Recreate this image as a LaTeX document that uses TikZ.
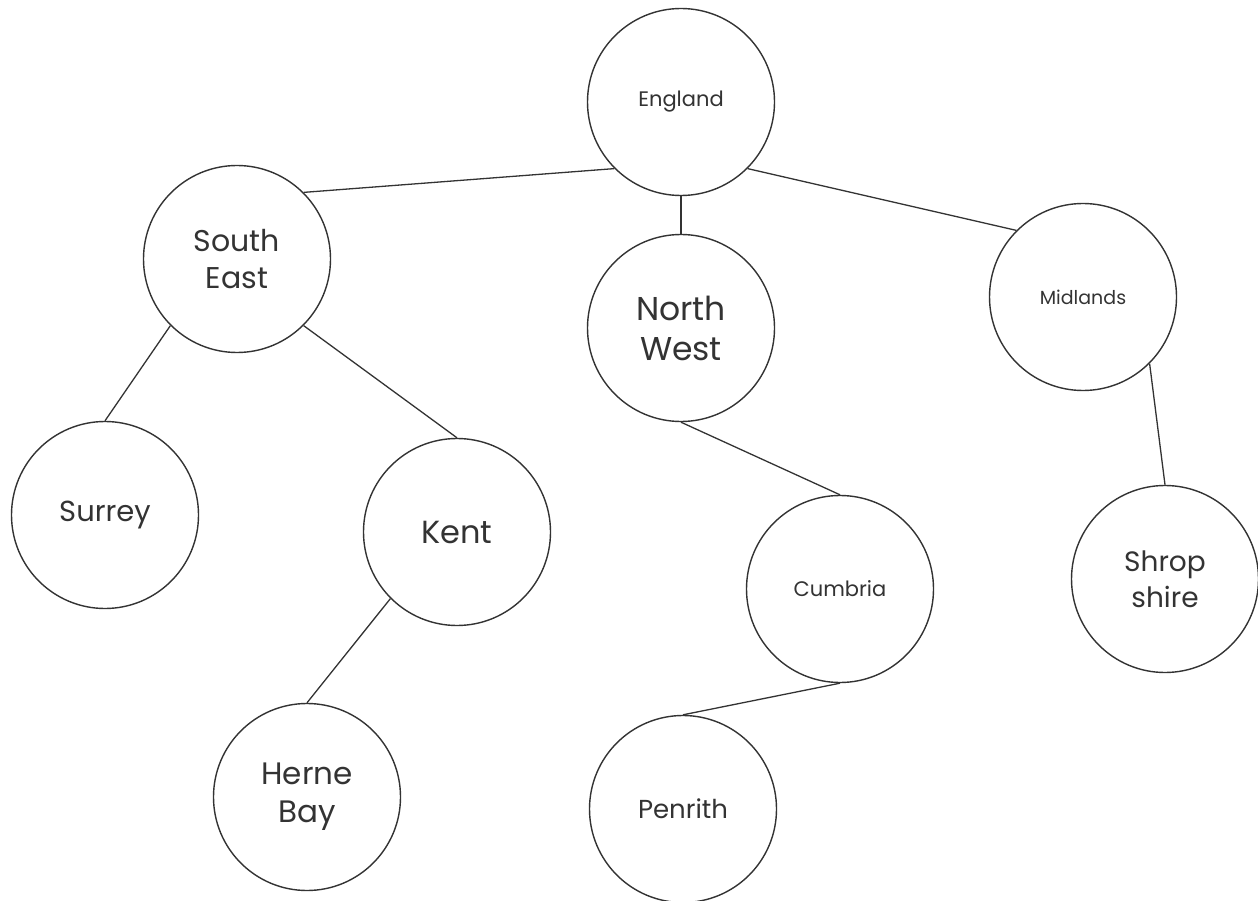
\documentclass[tikz,border=0pt]{standalone}
\usepackage{fontspec}
\setmainfont{Poppins}
\definecolor{ink}{HTML}{333333}
\begin{document}
\begin{tikzpicture}[x=1pt,y=-1pt,
  region/.style={circle,draw=ink,line width=1.4pt,minimum size=187pt,inner sep=0pt,
    text=ink,align=center},
  link/.style={draw=ink,line width=1.3pt},
  fs/.style 2 args={font=\fontsize{#1}{#2}\selectfont}]
\useasboundingbox (0,0) rectangle (1258,901);

\node[region,fs={21pt}{25pt}] (eng) at (681,102) {England};
\node[region,fs={30pt}{37pt}] (se)  at (237,259) {South\\East};
\node[region,fs={33pt}{40pt}] (nw)  at (681,328) {North\\West};
\node[region,fs={19pt}{23pt}] (mid) at (1083,297) {Midlands};
\node[region,fs={29pt}{35pt}] (sur) at (105,515) {Surrey};
\node[region,fs={32pt}{38pt}] (kent) at (457,532) {Kent};
\node[region,fs={21pt}{25pt}] (cum) at (840,589) {Cumbria};
\node[region,fs={28pt}{36pt}] (shr) at (1165,579) {Shrop\\shire};
\node[region,fs={31pt}{38pt}] (hb)  at (307,797) {Herne\\Bay};
\node[region,fs={26pt}{31pt}] (pen) at (683,809) {Penrith};

\draw[link] (eng.225) -- (se.45);
\draw[link] (eng.270) -- (nw.90);
\draw[link] (eng.315) -- (mid.135);
\draw[link] (se.225) -- (sur.90);
\draw[link] (se.315) -- (kent.90);
\draw[link] (kent.225) -- (hb.90);
\draw[link] (nw.270) -- (cum.90);
\draw[link] (cum.270) -- (pen.90);
\draw[link] (mid.315) -- (shr.90);
\end{tikzpicture}
\end{document}
